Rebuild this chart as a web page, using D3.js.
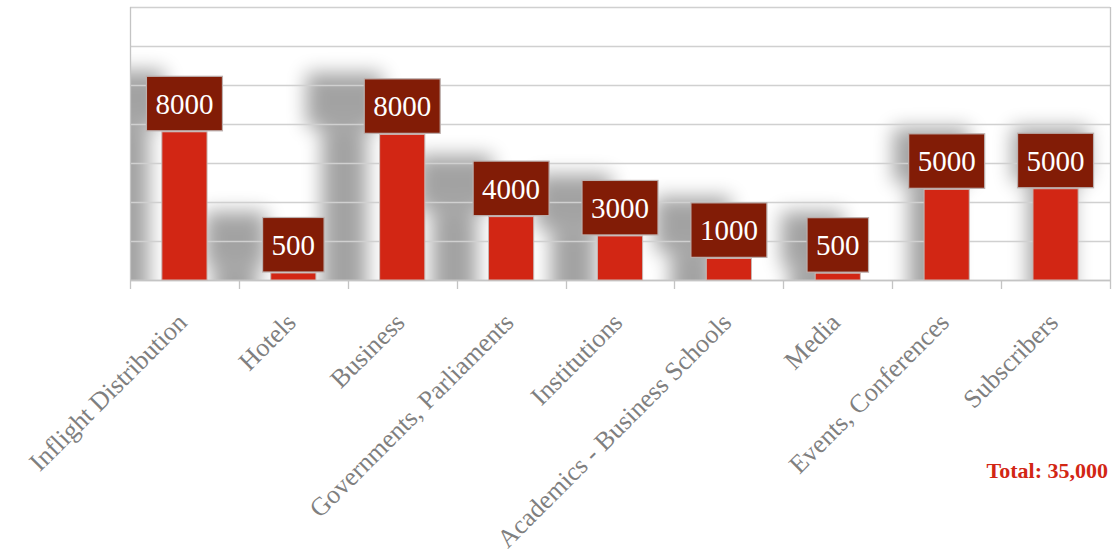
<!DOCTYPE html>
<html>
<head>
<meta charset="utf-8">
<script src="https://cdn.jsdelivr.net/npm/d3@7"></script>
<style>
  html, body { margin: 0; padding: 0; background: #ffffff; }
  svg { display: block; }
</style>
</head>
<body>
<svg id="chart" width="1118" height="553"></svg>
<script>
// ---- data ----
const categories = [
  "Inflight Distribution", "Hotels", "Business", "Governments, Parliaments",
  "Institutions", "Academics - Business Schools", "Media",
  "Events, Conferences", "Subscribers"
];
// numbers printed in the label boxes
const labelValues = [8000, 500, 8000, 4000, 3000, 1000, 500, 5000, 5000];
// bar heights as drawn (estimated on the unlabeled gridline scale)
const barValues = [7600, 360, 7470, 3250, 2260, 1110, 350, 4650, 4680];
const gridTicks = [0, 2000, 4000, 6000, 8000, 10000, 12000, 14000];
const totalText = "Total: 35,000";

// ---- layout ----
const plotL = 130, plotR = 1110, plotT = 7, plotB = 280;
const svg = d3.select("#chart");

const x = d3.scaleBand().domain(categories).range([plotL, plotR])
  .paddingInner(0.585).paddingOuter(0.2925);
const xCell = d3.scaleBand().domain(categories).range([plotL, plotR]).padding(0);
const y = d3.scaleLinear().domain([0, 14000]).range([plotB, plotT]);

const defs = svg.append("defs");
defs.append("clipPath").attr("id", "plotClip")
  .append("rect").attr("x", plotL).attr("y", plotT)
  .attr("width", plotR - plotL).attr("height", plotB - plotT);
const flt = defs.append("filter").attr("id", "blur")
  .attr("x", "-50%").attr("y", "-50%").attr("width", "200%").attr("height", "200%");
flt.append("feGaussianBlur").attr("stdDeviation", 9.5);

const data = categories.map((c, i) => ({ c, v: barValues[i], label: String(labelValues[i]) }));

// measure label widths
const fontLabel = "'Liberation Serif', 'Times New Roman', serif";
const meas = svg.append("text").attr("font-family", fontLabel).attr("font-size", 29);
data.forEach(d => { meas.text(d.label); d.tw = meas.node().getComputedTextLength(); });
meas.remove();
const boxH = 54.5, boxPad = 9;

function geom(d) {
  const cx = x(d.c) + x.bandwidth() / 2;
  const barTop = y(d.v);
  const bw = d.tw + boxPad * 2;
  return { cx, barTop, bx: cx - bw / 2, bw, by: barTop - 1 - boxH };
}

// ---- shadows ----
const shadowLayer = svg.append("g").attr("clip-path", "url(#plotClip)");
data.forEach(d => {
  const g = geom(d);
  const dx = -Math.min(58, (plotR - g.cx) * 0.095), dy = -6;
  const s = shadowLayer.append("g")
    .attr("transform", `translate(${dx},${dy})`)
    .attr("filter", "url(#blur)")
    .attr("opacity", 0.36);
  s.append("rect").attr("x", x(d.c)).attr("y", g.barTop)
    .attr("width", x.bandwidth()).attr("height", plotB + 30 - g.barTop).attr("fill", "#000");
  s.append("rect").attr("x", g.bx).attr("y", g.by)
    .attr("width", g.bw).attr("height", boxH).attr("fill", "#000");
});

// ---- gridlines ----
svg.append("g").selectAll("line").data(gridTicks).join("line")
  .attr("x1", plotL).attr("x2", plotR)
  .attr("y1", d => Math.round(y(d)) + 0.5).attr("y2", d => Math.round(y(d)) + 0.5)
  .attr("stroke", "#d0d0d0").attr("stroke-width", 1.3);

// plot frame verticals
[plotL, plotR].forEach(xx => {
  svg.append("line").attr("x1", xx + 0.5).attr("x2", xx + 0.5)
    .attr("y1", plotT).attr("y2", plotB + 9)
    .attr("stroke", "#c4c4c4").attr("stroke-width", 1.3);
});

// category boundary ticks
svg.append("g").selectAll("line").data(categories.slice(1)).join("line")
  .attr("x1", d => Math.round(xCell(d)) + 0.5).attr("x2", d => Math.round(xCell(d)) + 0.5)
  .attr("y1", plotB).attr("y2", plotB + 9)
  .attr("stroke", "#c4c4c4").attr("stroke-width", 1.3);

// baseline
svg.append("line").attr("x1", plotL).attr("x2", plotR)
  .attr("y1", plotB + 0.5).attr("y2", plotB + 0.5)
  .attr("stroke", "#c4c4c4").attr("stroke-width", 1.5);

// ---- bars ----
svg.append("g").selectAll("rect").data(data).join("rect")
  .attr("x", d => x(d.c)).attr("y", d => y(d.v))
  .attr("width", x.bandwidth()).attr("height", d => plotB - y(d.v))
  .attr("fill", "#d22614").attr("stroke", "#c8b8b4").attr("stroke-width", 1);

// ---- label boxes ----
const lab = svg.append("g").selectAll("g").data(data).join("g");
lab.append("rect")
  .attr("x", d => geom(d).bx).attr("y", d => geom(d).by)
  .attr("width", d => geom(d).bw).attr("height", boxH)
  .attr("fill", "#821c06").attr("stroke", "#bcb0ae").attr("stroke-width", 1.2);
lab.append("text")
  .attr("x", d => geom(d).cx).attr("y", d => geom(d).by + boxH / 2)
  .attr("dy", "0.35em").attr("text-anchor", "middle")
  .attr("font-family", fontLabel).attr("font-size", 29)
  .attr("fill", "#ffffff").text(d => d.label);

// ---- category labels ----
svg.append("g").selectAll("text").data(categories).join("text")
  .attr("text-anchor", "end")
  .attr("transform", d => `translate(${x(d) + x.bandwidth() / 2 + 4},${plotB + 44}) rotate(-45)`)
  .attr("font-family", fontLabel).attr("font-size", 26)
  .attr("fill", "#7f7f7f").text(d => d);

// ---- total ----
svg.append("text").attr("x", 1108).attr("y", 478).attr("text-anchor", "end")
  .attr("font-family", fontLabel).attr("font-size", 22).attr("font-weight", "bold")
  .attr("fill", "#d22614").text(totalText);
</script>
</body>
</html>
